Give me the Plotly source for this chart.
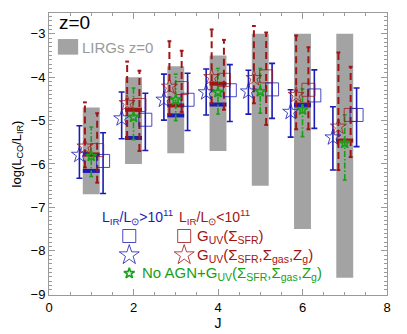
import plotly.graph_objects as go

# ---------------- data ----------------
J = [1, 2, 3, 4, 5, 6, 7]
lirg_top = [-4.7, -4.0, -3.75, -3.5, -3.0, -3.0, -3.0]
lirg_bot = [-6.7, -6.0, -5.75, -5.7, -6.5, -7.5, -8.62]

# high-LIR (blue) stars: G_UV(SFR, gas, Z)
bstar_y = [-5.79, -4.95, -4.52, -4.35, -4.33, -4.80, -5.39]
bstar_hi = [-5.12, -4.34, -3.93, -3.81, -3.84, -4.29, -4.68]
bstar_lo = [-6.33, -5.42, -4.99, -4.87, -4.85, -5.38, -6.14]
# high-LIR (blue) squares: G_UV(SFR)
bsq_y = [-5.93, -4.98, -4.52, -4.30, -4.28, -4.42, -4.87]
bsq_hi = [-5.28, -4.37, -3.91, -3.71, -3.68, -3.83, -4.25]
bsq_lo = [-6.68, -5.69, -5.23, -5.02, -4.95, -5.18, -5.60]
# low-LIR (red) stars
rstar_y = [-5.60, -4.60, -4.22, -4.00, -4.02, -4.41, -5.14]
rstar_hi = [-4.58, -3.64, -3.17, -2.90, -2.82, -3.04, -3.43]
rstar_lo = [-6.08, -5.40, -4.85, -4.60, -4.60, -5.20, -6.14]
# low-LIR (red) squares
rsq_y = [-5.68, -4.64, -4.25, -4.06, -3.98, -4.29, -4.87]
rsq_hi = [-4.83, -3.85, -3.39, -3.14, -2.97, -3.31, -3.76]
rsq_lo = [-6.43, -5.70, -4.80, -4.75, -5.10, -5.20, -5.84]
# No AGN (green) stars
gstar_y = [-5.82, -4.92, -4.52, -4.35, -4.33, -4.75, -5.52]
gstar_hi = [-5.15, -4.25, -3.93, -3.80, -3.80, -4.27, -4.87]
gstar_lo = [-6.29, -5.44, -5.00, -4.85, -4.83, -5.37, -6.37]
# observed medians (thick lines)
blue_med = [-6.16, -5.40, -4.88, -4.63, None, -4.65, None]
red_med = [-5.78, -4.75, -4.65, -4.15, None, -4.63, -5.46]

BLUE = "#1c1cb4"
RED = "#a01414"
GREEN = "#18a018"
GRAY = "#a3a3a3"

off_bstar, off_rstar, off_g, off_rsq, off_bsq = -0.28, -0.15, 0.0, 0.14, 0.28
cap = 0.045
medhalf = 0.2

fig = go.Figure()

# gray LIRG bars
fig.add_trace(go.Bar(x=J, y=[t - b for t, b in zip(lirg_top, lirg_bot)], base=lirg_bot,
                     width=0.4, marker=dict(color=GRAY, line=dict(width=0)), showlegend=False))


def seg_bars(offset, lo, hi, color, dash, width):
    xs, ys = [], []
    cx, cy = [], []
    for j, l, h in zip(J, lo, hi):
        x = j + offset
        xs += [x, x, None]
        ys += [l, h, None]
        cx += [x - cap, x + cap, None, x - cap, x + cap, None]
        cy += [l, l, None, h, h, None]
    fig.add_trace(go.Scatter(x=xs, y=ys, mode="lines", line=dict(color=color, dash=dash, width=width),
                             showlegend=False, hoverinfo="skip"))
    fig.add_trace(go.Scatter(x=cx, y=cy, mode="lines", line=dict(color=color, width=width),
                             showlegend=False, hoverinfo="skip"))


def med_lines(vals, color):
    xs, ys = [], []
    for j, v in zip(J, vals):
        if v is None:
            continue
        xs += [j - medhalf, j + medhalf, None]
        ys += [v, v, None]
    fig.add_trace(go.Scatter(x=xs, y=ys, mode="lines", line=dict(color=color, width=4),
                             showlegend=False, hoverinfo="skip"))


med_lines(red_med, RED)
med_lines(blue_med, BLUE)

seg_bars(off_rstar, rstar_lo, rstar_hi, RED, "7px,4px", 2)
seg_bars(off_rsq, rsq_lo, rsq_hi, RED, "7px,4px", 2)
seg_bars(off_g, gstar_lo, gstar_hi, GREEN, "6px,2px,1.5px,2px", 1.6)


def blue_err(offset, yv, lo, hi):
    fig.add_trace(go.Scatter(
        x=[j + offset for j in J], y=yv, mode="markers", marker=dict(size=1, color="rgba(0,0,0,0)"),
        error_y=dict(type="data", symmetric=False,
                     array=[h - y for h, y in zip(hi, yv)],
                     arrayminus=[y - l for y, l in zip(yv, lo)],
                     color=BLUE, thickness=1.6, width=3),
        showlegend=False, hoverinfo="skip"))


blue_err(off_bstar, bstar_y, bstar_lo, bstar_hi)
blue_err(off_bsq, bsq_y, bsq_lo, bsq_hi)

# markers
fig.add_trace(go.Scatter(x=[j + off_rstar for j in J], y=rstar_y, mode="markers",
                         marker=dict(symbol="star-open", size=12, color=RED, line=dict(width=1, color=RED), opacity=0.75),
                         showlegend=False))
fig.add_trace(go.Scatter(x=[j + off_rsq for j in J], y=rsq_y, mode="markers",
                         marker=dict(symbol="square-open", size=13, color=RED, line=dict(width=1, color=RED), opacity=0.75),
                         showlegend=False))
fig.add_trace(go.Scatter(x=[j + off_bstar for j in J], y=bstar_y, mode="markers",
                         marker=dict(symbol="star-open", size=12, color=BLUE, line=dict(width=1, color=BLUE), opacity=0.8),
                         showlegend=False))
fig.add_trace(go.Scatter(x=[j + off_bsq for j in J], y=bsq_y, mode="markers",
                         marker=dict(symbol="square-open", size=13, color=BLUE, line=dict(width=1, color=BLUE), opacity=0.8),
                         showlegend=False))
fig.add_trace(go.Scatter(x=[j + off_g for j in J], y=gstar_y, mode="markers",
                         marker=dict(symbol="star-open", size=8, color=GREEN, line=dict(width=1.6, color=GREEN)),
                         showlegend=False))

# ---------------- in-plot legend ----------------
leg_x_blue, leg_x_red = 1.9, 3.2
leg_y = [-7.66, -8.1, -8.52]
fig.add_trace(go.Scatter(x=[leg_x_blue, leg_x_red], y=[leg_y[0], leg_y[0]], mode="markers",
                         marker=dict(symbol="square-open", size=13, color=[BLUE, RED],
                                     line=dict(width=1, color=[BLUE, RED]), opacity=0.8),
                         showlegend=False, hoverinfo="skip"))
fig.add_trace(go.Scatter(x=[leg_x_blue, leg_x_red], y=[leg_y[1], leg_y[1]], mode="markers",
                         marker=dict(symbol="star-open", size=15, color=[BLUE, RED],
                                     line=dict(width=1, color=[BLUE, RED]), opacity=0.8),
                         showlegend=False, hoverinfo="skip"))
fig.add_trace(go.Scatter(x=[leg_x_blue], y=[leg_y[2]], mode="markers",
                         marker=dict(symbol="star-open", size=8, color=GREEN, line=dict(width=1.6, color=GREEN)),
                         showlegend=False, hoverinfo="skip"))

FONT = "Liberation Sans"
ann = [
    dict(x=1.2, y=-7.22, text="L<sub>IR</sub>/L<sub>⊙</sub>&gt;10<sup>11</sup>", color=BLUE, size=14),
    dict(x=3.02, y=-7.22, text="L<sub>IR</sub>/L<sub>⊙</sub>&lt;10<sup>11</sup>", color=RED, size=14),
    dict(x=3.46, y=leg_y[0], text="G<sub>UV</sub>(Σ<sub>SFR</sub>)", color=RED, size=15),
    dict(x=3.46, y=leg_y[1], text="G<sub>UV</sub>(Σ<sub>SFR</sub>,Σ<sub>gas</sub>,Z<sub>g</sub>)", color=RED, size=15),
    dict(x=2.15, y=leg_y[2], text="No AGN+G<sub>UV</sub>(Σ<sub>SFR</sub>,Σ<sub>gas</sub>,Z<sub>g</sub>)", color=GREEN, size=15),
]
for a in ann:
    fig.add_annotation(x=a["x"], y=a["y"], xref="x", yref="y", text=a["text"], showarrow=False,
                       xanchor="left", yanchor="middle", font=dict(family=FONT, size=a["size"], color=a["color"]))

fig.add_annotation(x=0.2, y=-2.74, xref="x", yref="y", text="z=0", showarrow=False,
                   xanchor="left", yanchor="middle", font=dict(family=FONT, size=19, color="black"))
fig.add_shape(type="rect", xref="x", yref="y", x0=0.21, x1=0.69, y0=-3.48, y1=-3.12,
              fillcolor=GRAY, line=dict(width=0))
fig.add_annotation(x=0.74, y=-3.31, xref="x", yref="y", text="LIRGs z=0", showarrow=False,
                   xanchor="left", yanchor="middle", font=dict(family=FONT, size=15, color="#9a9a9a"))

axcol = "#9a9a9a"
# page body has an 8px default margin: shrink the figure so the plot area sits where the reference's does
fig.update_layout(
    width=399, height=326,
    margin=dict(l=41, r=20, t=5, b=39),
    plot_bgcolor="white", paper_bgcolor="white",
    font=dict(family=FONT, size=13, color="black"),
    showlegend=False,
    barmode="overlay",
    xaxis=dict(range=[0, 8], dtick=2, tick0=0, showgrid=False, zeroline=False,
               showline=True, mirror="allticks", linecolor=axcol, linewidth=1,
               ticks="inside", ticklen=6, tickcolor=axcol,
               minor=dict(dtick=0.5, ticks="inside", ticklen=3, tickcolor=axcol),
               title=dict(text="J", font=dict(size=14), standoff=2),
               tickfont=dict(size=13)),
    yaxis=dict(range=[-9.02, -2.52], dtick=1, tick0=-9, showgrid=False, zeroline=False,
               showline=True, mirror="allticks", linecolor=axcol, linewidth=1,
               ticks="inside", ticklen=6, tickcolor=axcol,
               minor=dict(dtick=0.1, ticks="inside", ticklen=3, tickcolor=axcol),
               title=dict(text="log(L<sub>CO</sub>/L<sub>IR</sub>)", font=dict(size=13), standoff=6),
               tickfont=dict(size=13)),
)

fig.write_html("out.html")
